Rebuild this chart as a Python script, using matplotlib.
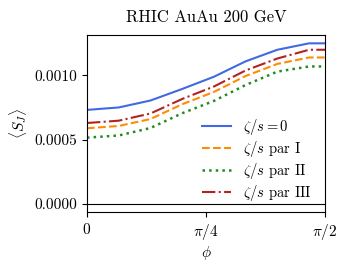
import numpy as np
import matplotlib
matplotlib.use("Agg")
import matplotlib.pyplot as plt

plt.rcParams['font.family'] = 'serif'
plt.rcParams['font.serif'] = ['cmr10']
plt.rcParams['mathtext.fontset'] = 'cm'
plt.rcParams['axes.formatter.use_mathtext'] = True

# phi grid in units of pi/15 (last point lies past pi/2, clipped by xlim)
phi_steps = [0, 1, 2, 3, 4, 5, 6, 7, 8]
phi = np.array(phi_steps) * np.pi / 15

sj_zero = [0.000732, 0.000751, 0.000805, 0.000895, 0.000990, 0.001110, 0.001200, 0.001250, 0.001250]
sj_par1 = [0.000589, 0.000607, 0.000661, 0.000776, 0.000872, 0.000996, 0.001090, 0.001140, 0.001140]
sj_par2 = [0.000516, 0.000533, 0.000591, 0.000706, 0.000802, 0.000926, 0.001030, 0.001070, 0.001070]
sj_par3 = [0.000630, 0.000648, 0.000704, 0.000817, 0.000914, 0.001039, 0.001132, 0.001200, 0.001200]

labels = [r'$\zeta/s=0$', r'$\zeta/s$ par I', r'$\zeta/s$ par II', r'$\zeta/s$ par III']

fig = plt.figure(figsize=(3.48, 2.69), dpi=100)
ax = fig.add_axes([0.25, 0.212, 0.684, 0.658])

ax.plot(phi, sj_zero, color='royalblue', ls='-', lw=1.5, label=labels[0])
ax.plot(phi, sj_par1, color='darkorange', ls='--', lw=1.5, label=labels[1])
ax.plot(phi, sj_par2, color='forestgreen', ls=':', lw=1.8, label=labels[2])
ax.plot(phi, sj_par3, color='firebrick', ls='-.', lw=1.5, label=labels[3])
ax.axhline(0, color='black', lw=0.8)

ax.set_xlim(0, np.pi / 2)
ax.set_ylim(-0.0000623, 0.001315)
ax.set_xticks([0, np.pi / 4, np.pi / 2])
ax.set_xticklabels(['$0$', r'$\pi/4$', r'$\pi/2$'])
ax.set_yticks([0, 0.0005, 0.0010])
ax.set_yticklabels(['0.0000', '0.0005', '0.0010'])
ax.tick_params(labelsize=11)
ax.set_xlabel(r'$\phi$', fontsize=11, labelpad=2)
ax.set_ylabel(r'$\langle S_J \rangle$', fontsize=11)
ax.set_title('RHIC AuAu 200 GeV', fontsize=12, pad=9)
ax.legend(loc='lower right', frameon=False, fontsize=10.5, handlelength=2.0,
          labelspacing=0.15, bbox_to_anchor=(1.0, -0.025))

fig.savefig('out.png', dpi=100)
